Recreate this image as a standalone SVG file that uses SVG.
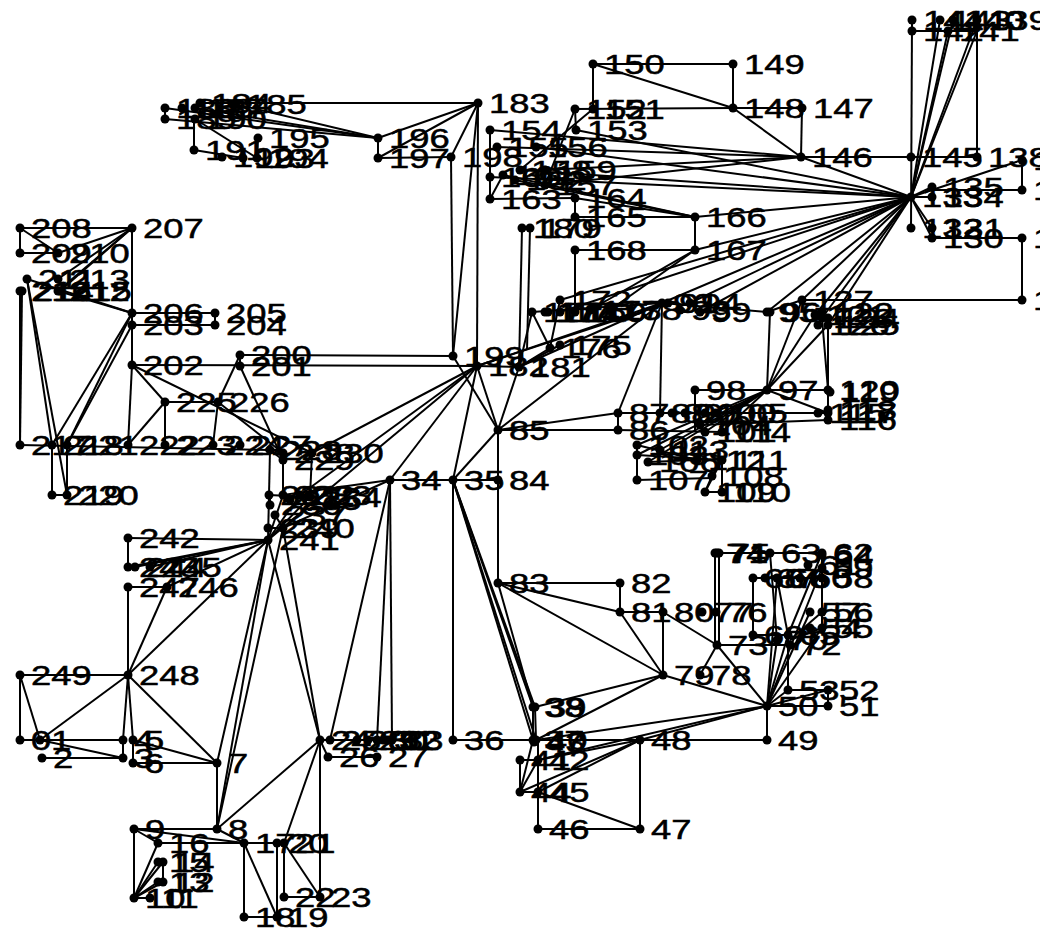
<svg xmlns="http://www.w3.org/2000/svg" width="1040" height="938" viewBox="0 0 1040 938">
<style>
rect.bg{fill:#fff}
#edges line{stroke:#000;stroke-width:2}
.nd circle{fill:#000}
.nd text{font-family:"Liberation Sans",Arial,sans-serif;font-size:28px;fill:#000;stroke:#000;stroke-width:0.5px}
</style>
<rect class="bg" width="1040" height="938"/>
<g id="edges">
<line x1="20" y1="675" x2="128" y2="675"/><line x1="20" y1="675" x2="20" y2="740"/><line x1="20" y1="675" x2="40" y2="740"/><line x1="128" y1="675" x2="40" y2="740"/>
<line x1="128" y1="675" x2="123" y2="740"/><line x1="128" y1="675" x2="133" y2="740"/><line x1="128" y1="675" x2="217" y2="763"/><line x1="128" y1="675" x2="128" y2="587"/>
<line x1="128" y1="675" x2="167" y2="587"/><line x1="128" y1="675" x2="268" y2="540"/>
<line x1="128" y1="538" x2="268" y2="540"/><line x1="128" y1="538" x2="128" y2="567"/><line x1="128" y1="567" x2="268" y2="540"/><line x1="135" y1="567" x2="268" y2="540"/><line x1="150" y1="567" x2="268" y2="540"/>
<line x1="128" y1="587" x2="167" y2="587"/><line x1="167" y1="587" x2="268" y2="540"/>
<line x1="20" y1="740" x2="123" y2="740"/><line x1="40" y1="740" x2="123" y2="758"/><line x1="42" y1="758" x2="123" y2="758"/><line x1="123" y1="740" x2="123" y2="758"/>
<line x1="133" y1="740" x2="217" y2="763"/><line x1="133" y1="763" x2="217" y2="763"/><line x1="133" y1="740" x2="133" y2="763"/>
<line x1="217" y1="763" x2="217" y2="829"/><line x1="268" y1="540" x2="217" y2="763"/><line x1="268" y1="540" x2="217" y2="829"/><line x1="283" y1="528" x2="217" y2="829"/>
<line x1="217" y1="829" x2="320" y2="740"/><line x1="217" y1="829" x2="134" y2="829"/><line x1="217" y1="829" x2="244" y2="843"/><line x1="134" y1="829" x2="244" y2="843"/>
<line x1="158" y1="843" x2="244" y2="843"/><line x1="134" y1="829" x2="134" y2="898"/><line x1="134" y1="829" x2="158" y2="843"/>
<line x1="134" y1="898" x2="158" y2="843"/><line x1="134" y1="898" x2="158" y2="862"/><line x1="134" y1="898" x2="163" y2="862"/><line x1="134" y1="898" x2="158" y2="882"/><line x1="134" y1="898" x2="163" y2="882"/><line x1="134" y1="898" x2="150" y2="898"/>
<line x1="163" y1="862" x2="163" y2="882"/>
<line x1="244" y1="843" x2="244" y2="917"/><line x1="244" y1="843" x2="277" y2="917"/><line x1="244" y1="917" x2="277" y2="917"/><line x1="244" y1="843" x2="284" y2="843"/>
<line x1="277" y1="843" x2="277" y2="917"/><line x1="284" y1="843" x2="284" y2="897"/><line x1="284" y1="897" x2="320" y2="897"/><line x1="284" y1="843" x2="320" y2="897"/>
<line x1="320" y1="740" x2="320" y2="897"/><line x1="284" y1="843" x2="320" y2="740"/><line x1="320" y1="740" x2="328" y2="757"/><line x1="328" y1="757" x2="377" y2="757"/>
<line x1="320" y1="740" x2="392" y2="740"/><line x1="268" y1="540" x2="320" y2="740"/><line x1="283" y1="528" x2="320" y2="740"/>
<line x1="330" y1="740" x2="390" y2="480"/><line x1="377" y1="740" x2="390" y2="480"/><line x1="392" y1="740" x2="390" y2="480"/>
<line x1="453" y1="480" x2="453" y2="740"/><line x1="453" y1="740" x2="533" y2="740"/><line x1="453" y1="480" x2="533" y2="740"/><line x1="453" y1="480" x2="533" y2="707"/><line x1="453" y1="480" x2="535" y2="707"/><line x1="453" y1="480" x2="536" y2="740"/>
<line x1="390" y1="480" x2="453" y2="480"/><line x1="453" y1="480" x2="498" y2="480"/>
<line x1="132" y1="228" x2="20" y2="228"/><line x1="20" y1="228" x2="20" y2="253"/><line x1="20" y1="253" x2="58" y2="253"/><line x1="20" y1="228" x2="58" y2="253"/>
<line x1="132" y1="228" x2="132" y2="313"/><line x1="132" y1="228" x2="58" y2="253"/><line x1="132" y1="228" x2="58" y2="279"/><line x1="132" y1="228" x2="58" y2="291"/><line x1="132" y1="228" x2="60" y2="291"/>
<line x1="58" y1="291" x2="132" y2="313"/><line x1="27" y1="279" x2="132" y2="313"/>
<line x1="20" y1="291" x2="20" y2="445"/><line x1="22" y1="291" x2="20" y2="445"/><line x1="27" y1="279" x2="52" y2="445"/><line x1="27" y1="279" x2="67" y2="495"/>
<line x1="52" y1="445" x2="52" y2="495"/><line x1="67" y1="445" x2="67" y2="495"/><line x1="52" y1="495" x2="67" y2="495"/>
<line x1="132" y1="313" x2="215" y2="313"/><line x1="132" y1="325" x2="215" y2="325"/><line x1="215" y1="313" x2="215" y2="325"/><line x1="132" y1="313" x2="132" y2="325"/><line x1="132" y1="325" x2="132" y2="365"/>
<line x1="132" y1="365" x2="477" y2="366"/><line x1="240" y1="355" x2="453" y2="356"/><line x1="240" y1="355" x2="240" y2="366"/>
<line x1="132" y1="313" x2="52" y2="445"/><line x1="132" y1="313" x2="67" y2="445"/><line x1="132" y1="325" x2="67" y2="445"/><line x1="132" y1="365" x2="128" y2="445"/>
<line x1="132" y1="365" x2="165" y2="402"/><line x1="132" y1="365" x2="312" y2="453"/><line x1="165" y1="402" x2="218" y2="402"/><line x1="165" y1="402" x2="165" y2="445"/><line x1="218" y1="402" x2="213" y2="445"/>
<line x1="128" y1="445" x2="165" y2="402"/><line x1="240" y1="355" x2="218" y2="402"/><line x1="240" y1="366" x2="283" y2="460"/><line x1="218" y1="402" x2="283" y2="453"/>
<line x1="20" y1="445" x2="270" y2="450"/><line x1="270" y1="450" x2="283" y2="460"/><line x1="283" y1="453" x2="283" y2="495"/><line x1="312" y1="453" x2="310" y2="497"/><line x1="270" y1="450" x2="269" y2="495"/>
<line x1="477" y1="366" x2="312" y2="453"/><line x1="477" y1="366" x2="300" y2="495"/><line x1="390" y1="480" x2="283" y2="495"/><line x1="477" y1="366" x2="268" y2="540"/><line x1="283" y1="528" x2="390" y2="480"/>
<line x1="269" y1="495" x2="268" y2="540"/><line x1="283" y1="495" x2="268" y2="540"/><line x1="300" y1="495" x2="268" y2="540"/><line x1="310" y1="497" x2="268" y2="540"/><line x1="275" y1="515" x2="283" y2="528"/><line x1="268" y1="528" x2="283" y2="528"/><line x1="269" y1="495" x2="310" y2="497"/><line x1="270" y1="505" x2="270" y2="495"/>
<line x1="477" y1="366" x2="478" y2="103"/><line x1="453" y1="356" x2="478" y2="103"/><line x1="451" y1="157" x2="453" y2="356"/><line x1="378" y1="158" x2="451" y2="157"/><line x1="378" y1="138" x2="378" y2="158"/>
<line x1="378" y1="138" x2="478" y2="103"/><line x1="378" y1="158" x2="478" y2="103"/><line x1="451" y1="157" x2="478" y2="103"/><line x1="200" y1="103" x2="478" y2="103"/>
<line x1="165" y1="108" x2="378" y2="138"/><line x1="165" y1="119" x2="378" y2="138"/><line x1="195" y1="108" x2="378" y2="138"/><line x1="235" y1="104" x2="378" y2="138"/>
<line x1="194" y1="119" x2="194" y2="150"/><line x1="194" y1="150" x2="243" y2="158"/><line x1="195" y1="119" x2="257" y2="158"/><line x1="258" y1="138" x2="257" y2="158"/><line x1="165" y1="108" x2="165" y2="119"/>
<line x1="477" y1="366" x2="519" y2="367"/><line x1="477" y1="366" x2="453" y2="480"/><line x1="477" y1="366" x2="498" y2="430"/><line x1="477" y1="366" x2="390" y2="480"/><line x1="453" y1="356" x2="498" y2="430"/>
<line x1="477" y1="366" x2="662" y2="303"/><line x1="477" y1="366" x2="668" y2="303"/><line x1="519" y1="367" x2="662" y2="303"/>
<line x1="498" y1="480" x2="498" y2="430"/><line x1="498" y1="583" x2="498" y2="480"/><line x1="498" y1="430" x2="618" y2="430"/><line x1="498" y1="430" x2="618" y2="413"/><line x1="498" y1="430" x2="519" y2="367"/><line x1="498" y1="430" x2="662" y2="303"/>
<line x1="453" y1="480" x2="498" y2="430"/><line x1="618" y1="413" x2="618" y2="430"/><line x1="618" y1="413" x2="662" y2="303"/><line x1="662" y1="303" x2="660" y2="413"/>
<line x1="522" y1="228" x2="519" y2="367"/><line x1="530" y1="228" x2="527" y2="350"/><line x1="532" y1="312" x2="550" y2="348"/><line x1="532" y1="312" x2="519" y2="367"/><line x1="550" y1="348" x2="519" y2="367"/><line x1="560" y1="345" x2="519" y2="367"/><line x1="560" y1="300" x2="550" y2="348"/>
<line x1="532" y1="312" x2="662" y2="303"/><line x1="575" y1="250" x2="575" y2="312"/><line x1="695" y1="250" x2="590" y2="310"/><line x1="695" y1="250" x2="610" y2="310"/>
<line x1="593" y1="64" x2="733" y2="64"/><line x1="593" y1="64" x2="593" y2="109"/><line x1="593" y1="64" x2="733" y2="108"/><line x1="733" y1="64" x2="733" y2="108"/><line x1="733" y1="108" x2="802" y2="108"/>
<line x1="802" y1="108" x2="801" y2="157"/><line x1="733" y1="108" x2="801" y2="157"/><line x1="801" y1="157" x2="911" y2="157"/><line x1="911" y1="157" x2="977" y2="157"/>
<line x1="912" y1="20" x2="911" y2="228"/><line x1="912" y1="31" x2="977" y2="31"/><line x1="977" y1="20" x2="977" y2="157"/>
<line x1="575" y1="109" x2="733" y2="108"/><line x1="575" y1="109" x2="576" y2="130"/><line x1="593" y1="109" x2="520" y2="170"/><line x1="575" y1="109" x2="545" y2="185"/>
<line x1="490" y1="130" x2="801" y2="157"/><line x1="576" y1="130" x2="911" y2="197"/><line x1="536" y1="147" x2="911" y2="197"/><line x1="497" y1="147" x2="801" y2="157"/><line x1="545" y1="185" x2="801" y2="157"/>
<line x1="520" y1="170" x2="911" y2="197"/><line x1="545" y1="170" x2="801" y2="157"/><line x1="490" y1="177" x2="911" y2="197"/><line x1="503" y1="175" x2="695" y2="217"/><line x1="515" y1="180" x2="695" y2="217"/>
<line x1="490" y1="199" x2="575" y2="198"/><line x1="490" y1="130" x2="490" y2="199"/><line x1="490" y1="199" x2="503" y2="175"/><line x1="575" y1="198" x2="575" y2="217"/><line x1="575" y1="198" x2="695" y2="217"/>
<line x1="575" y1="217" x2="695" y2="217"/><line x1="695" y1="217" x2="695" y2="250"/><line x1="695" y1="217" x2="911" y2="197"/><line x1="695" y1="250" x2="911" y2="197"/><line x1="575" y1="250" x2="695" y2="250"/>
<line x1="911" y1="197" x2="801" y2="157"/><line x1="911" y1="197" x2="560" y2="300"/><line x1="911" y1="197" x2="560" y2="312"/><line x1="911" y1="197" x2="662" y2="303"/><line x1="911" y1="197" x2="690" y2="303"/><line x1="911" y1="197" x2="700" y2="312"/>
<line x1="911" y1="197" x2="767" y2="312"/><line x1="911" y1="197" x2="802" y2="300"/><line x1="911" y1="197" x2="815" y2="315"/><line x1="911" y1="197" x2="822" y2="318"/><line x1="911" y1="197" x2="828" y2="325"/>
<line x1="911" y1="197" x2="932" y2="238"/><line x1="911" y1="197" x2="932" y2="228"/><line x1="911" y1="197" x2="932" y2="187"/><line x1="911" y1="197" x2="932" y2="197"/><line x1="911" y1="197" x2="1022" y2="160"/>
<line x1="911" y1="197" x2="940" y2="20"/><line x1="911" y1="197" x2="953" y2="20"/><line x1="911" y1="197" x2="948" y2="31"/><line x1="911" y1="197" x2="977" y2="20"/><line x1="911" y1="197" x2="977" y2="31"/>
<line x1="932" y1="190" x2="1022" y2="190"/><line x1="1022" y1="190" x2="1022" y2="160"/><line x1="932" y1="238" x2="1022" y2="238"/><line x1="1022" y1="238" x2="1022" y2="300"/><line x1="1022" y1="300" x2="802" y2="300"/>
<line x1="662" y1="303" x2="767" y2="312"/><line x1="770" y1="312" x2="767" y2="390"/><line x1="767" y1="312" x2="802" y2="300"/><line x1="695" y1="390" x2="767" y2="390"/><line x1="695" y1="390" x2="695" y2="432"/>
<line x1="767" y1="390" x2="828" y2="390"/><line x1="767" y1="390" x2="828" y2="413"/><line x1="767" y1="390" x2="802" y2="300"/><line x1="767" y1="390" x2="815" y2="315"/><line x1="767" y1="390" x2="828" y2="325"/>
<line x1="828" y1="390" x2="828" y2="420"/><line x1="828" y1="325" x2="828" y2="413"/><line x1="822" y1="318" x2="828" y2="390"/>
<line x1="767" y1="390" x2="705" y2="432"/><line x1="767" y1="390" x2="722" y2="432"/><line x1="767" y1="390" x2="637" y2="445"/><line x1="767" y1="390" x2="637" y2="455"/><line x1="767" y1="390" x2="648" y2="462"/><line x1="767" y1="390" x2="660" y2="450"/>
<line x1="618" y1="413" x2="828" y2="413"/><line x1="618" y1="430" x2="722" y2="432"/><line x1="700" y1="425" x2="828" y2="420"/>
<line x1="637" y1="445" x2="637" y2="480"/><line x1="637" y1="480" x2="712" y2="478"/><line x1="712" y1="476" x2="722" y2="460"/><line x1="722" y1="460" x2="705" y2="492"/><line x1="705" y1="492" x2="722" y2="492"/><line x1="722" y1="460" x2="722" y2="492"/><line x1="712" y1="476" x2="705" y2="492"/>
<line x1="637" y1="445" x2="697" y2="460"/><line x1="637" y1="455" x2="722" y2="460"/><line x1="648" y1="462" x2="697" y2="460"/>
<line x1="498" y1="583" x2="620" y2="583"/><line x1="498" y1="583" x2="620" y2="612"/><line x1="498" y1="583" x2="663" y2="675"/><line x1="620" y1="583" x2="620" y2="612"/><line x1="620" y1="612" x2="663" y2="612"/>
<line x1="620" y1="612" x2="663" y2="675"/><line x1="663" y1="612" x2="663" y2="675"/><line x1="498" y1="583" x2="533" y2="707"/>
<line x1="663" y1="675" x2="535" y2="707"/><line x1="663" y1="675" x2="536" y2="740"/><line x1="663" y1="675" x2="767" y2="706"/>
<line x1="663" y1="612" x2="717" y2="645"/><line x1="717" y1="645" x2="700" y2="675"/><line x1="715" y1="553" x2="715" y2="645"/><line x1="719" y1="553" x2="719" y2="645"/><line x1="717" y1="645" x2="790" y2="645"/><line x1="717" y1="645" x2="767" y2="706"/>
<line x1="715" y1="553" x2="822" y2="553"/><line x1="770" y1="553" x2="777" y2="640"/><line x1="753" y1="578" x2="822" y2="578"/><line x1="753" y1="578" x2="753" y2="635"/><line x1="753" y1="635" x2="788" y2="635"/>
<line x1="788" y1="635" x2="788" y2="690"/><line x1="822" y1="553" x2="822" y2="628"/><line x1="822" y1="553" x2="788" y2="635"/><line x1="777" y1="578" x2="788" y2="635"/><line x1="822" y1="612" x2="790" y2="640"/><line x1="822" y1="628" x2="790" y2="640"/>
<line x1="788" y1="690" x2="828" y2="690"/><line x1="828" y1="690" x2="828" y2="706"/><line x1="767" y1="706" x2="828" y2="706"/><line x1="767" y1="706" x2="828" y2="690"/><line x1="767" y1="706" x2="788" y2="690"/>
<line x1="767" y1="706" x2="767" y2="740"/><line x1="767" y1="740" x2="640" y2="740"/><line x1="640" y1="740" x2="640" y2="829"/><line x1="640" y1="829" x2="538" y2="829"/><line x1="538" y1="740" x2="538" y2="829"/>
<line x1="538" y1="792" x2="640" y2="829"/><line x1="533" y1="740" x2="640" y2="740"/><line x1="767" y1="706" x2="536" y2="740"/><line x1="767" y1="706" x2="640" y2="740"/><line x1="767" y1="706" x2="538" y2="760"/>
<line x1="640" y1="740" x2="538" y2="760"/><line x1="640" y1="740" x2="520" y2="792"/><line x1="640" y1="740" x2="538" y2="792"/><line x1="520" y1="792" x2="538" y2="792"/><line x1="520" y1="760" x2="520" y2="792"/><line x1="520" y1="760" x2="538" y2="760"/>
<line x1="520" y1="792" x2="538" y2="760"/><line x1="533" y1="740" x2="520" y2="792"/><line x1="533" y1="707" x2="533" y2="740"/><line x1="535" y1="707" x2="536" y2="740"/>
<line x1="767" y1="706" x2="788" y2="635"/><line x1="767" y1="706" x2="777" y2="640"/><line x1="767" y1="706" x2="777" y2="578"/><line x1="767" y1="706" x2="822" y2="568"/><line x1="767" y1="706" x2="822" y2="628"/><line x1="767" y1="706" x2="810" y2="612"/>
</g>
<g class="nd">
<g id="n0"><circle cx="20" cy="740" r="4.5"/><text transform="translate(31 750) scale(1.3 1)">0</text></g>
<g id="n1"><circle cx="40" cy="740" r="4.5"/><text transform="translate(51 750) scale(1.3 1)">1</text></g>
<g id="n2"><circle cx="42" cy="758" r="4.5"/><text transform="translate(53 768) scale(1.3 1)">2</text></g>
<g id="n3"><circle cx="123" cy="758" r="4.5"/><text transform="translate(134 768) scale(1.3 1)">3</text></g>
<g id="n4"><circle cx="123" cy="740" r="4.5"/><text transform="translate(134 750) scale(1.3 1)">4</text></g>
<g id="n5"><circle cx="133" cy="740" r="4.5"/><text transform="translate(144 750) scale(1.3 1)">5</text></g>
<g id="n6"><circle cx="133" cy="763" r="4.5"/><text transform="translate(144 773) scale(1.3 1)">6</text></g>
<g id="n7"><circle cx="217" cy="763" r="4.5"/><text transform="translate(228 773) scale(1.3 1)">7</text></g>
<g id="n8"><circle cx="217" cy="829" r="4.5"/><text transform="translate(228 839) scale(1.3 1)">8</text></g>
<g id="n9"><circle cx="134" cy="829" r="4.5"/><text transform="translate(145 839) scale(1.3 1)">9</text></g>
<g id="n10"><circle cx="134" cy="898" r="4.5"/><text transform="translate(145 908) scale(1.3 1)">10</text></g>
<g id="n11"><circle cx="150" cy="898" r="4.5"/><text transform="translate(161 908) scale(1.3 1)">11</text></g>
<g id="n12"><circle cx="163" cy="882" r="4.5"/><text transform="translate(174 892) scale(1.3 1)">12</text></g>
<g id="n13"><circle cx="158" cy="882" r="4.5"/><text transform="translate(169 892) scale(1.3 1)">13</text></g>
<g id="n14"><circle cx="163" cy="862" r="4.5"/><text transform="translate(174 872) scale(1.3 1)">14</text></g>
<g id="n15"><circle cx="158" cy="862" r="4.5"/><text transform="translate(169 872) scale(1.3 1)">15</text></g>
<g id="n16"><circle cx="158" cy="843" r="4.5"/><text transform="translate(169 853) scale(1.3 1)">16</text></g>
<g id="n17"><circle cx="244" cy="843" r="4.5"/><text transform="translate(255 853) scale(1.3 1)">17</text></g>
<g id="n18"><circle cx="244" cy="917" r="4.5"/><text transform="translate(255 927) scale(1.3 1)">18</text></g>
<g id="n19"><circle cx="277" cy="917" r="4.5"/><text transform="translate(288 927) scale(1.3 1)">19</text></g>
<g id="n20"><circle cx="277" cy="843" r="4.5"/><text transform="translate(288 853) scale(1.3 1)">20</text></g>
<g id="n21"><circle cx="284" cy="843" r="4.5"/><text transform="translate(295 853) scale(1.3 1)">21</text></g>
<g id="n22"><circle cx="284" cy="897" r="4.5"/><text transform="translate(295 907) scale(1.3 1)">22</text></g>
<g id="n23"><circle cx="320" cy="897" r="4.5"/><text transform="translate(331 907) scale(1.3 1)">23</text></g>
<g id="n24"><circle cx="320" cy="740" r="4.5"/><text transform="translate(331 750) scale(1.3 1)">24</text></g>
<g id="n25"><circle cx="330" cy="740" r="4.5"/><text transform="translate(341 750) scale(1.3 1)">25</text></g>
<g id="n26"><circle cx="328" cy="757" r="4.5"/><text transform="translate(339 767) scale(1.3 1)">26</text></g>
<g id="n27"><circle cx="377" cy="757" r="4.5"/><text transform="translate(388 767) scale(1.3 1)">27</text></g>
<g id="n28"><circle cx="357" cy="740" r="4.5"/><text transform="translate(368 750) scale(1.3 1)">28</text></g>
<g id="n29"><circle cx="368" cy="740" r="4.5"/><text transform="translate(379 750) scale(1.3 1)">29</text></g>
<g id="n30"><circle cx="377" cy="740" r="4.5"/><text transform="translate(388 750) scale(1.3 1)">30</text></g>
<g id="n31"><circle cx="383" cy="740" r="4.5"/><text transform="translate(394 750) scale(1.3 1)">31</text></g>
<g id="n32"><circle cx="388" cy="740" r="4.5"/><text transform="translate(399 750) scale(1.3 1)">32</text></g>
<g id="n33"><circle cx="392" cy="740" r="4.5"/><text transform="translate(403 750) scale(1.3 1)">33</text></g>
<g id="n34"><circle cx="390" cy="480" r="4.5"/><text transform="translate(401 490) scale(1.3 1)">34</text></g>
<g id="n35"><circle cx="453" cy="480" r="4.5"/><text transform="translate(464 490) scale(1.3 1)">35</text></g>
<g id="n36"><circle cx="453" cy="740" r="4.5"/><text transform="translate(464 750) scale(1.3 1)">36</text></g>
<g id="n37"><circle cx="533" cy="740" r="4.5"/><text transform="translate(544 750) scale(1.3 1)">37</text></g>
<g id="n38"><circle cx="533" cy="707" r="4.5"/><text transform="translate(544 717) scale(1.3 1)">38</text></g>
<g id="n39"><circle cx="535" cy="707" r="4.5"/><text transform="translate(546 717) scale(1.3 1)">39</text></g>
<g id="n40"><circle cx="536" cy="740" r="4.5"/><text transform="translate(547 750) scale(1.3 1)">40</text></g>
<g id="n41"><circle cx="520" cy="760" r="4.5"/><text transform="translate(531 770) scale(1.3 1)">41</text></g>
<g id="n42"><circle cx="538" cy="760" r="4.5"/><text transform="translate(549 770) scale(1.3 1)">42</text></g>
<g id="n43"><circle cx="534" cy="742" r="4.5"/><text transform="translate(545 752) scale(1.3 1)">43</text></g>
<g id="n44"><circle cx="520" cy="792" r="4.5"/><text transform="translate(531 802) scale(1.3 1)">44</text></g>
<g id="n45"><circle cx="538" cy="792" r="4.5"/><text transform="translate(549 802) scale(1.3 1)">45</text></g>
<g id="n46"><circle cx="538" cy="829" r="4.5"/><text transform="translate(549 839) scale(1.3 1)">46</text></g>
<g id="n47"><circle cx="640" cy="829" r="4.5"/><text transform="translate(651 839) scale(1.3 1)">47</text></g>
<g id="n48"><circle cx="640" cy="740" r="4.5"/><text transform="translate(651 750) scale(1.3 1)">48</text></g>
<g id="n49"><circle cx="767" cy="740" r="4.5"/><text transform="translate(778 750) scale(1.3 1)">49</text></g>
<g id="n50"><circle cx="767" cy="706" r="4.5"/><text transform="translate(778 716) scale(1.3 1)">50</text></g>
<g id="n51"><circle cx="828" cy="706" r="4.5"/><text transform="translate(839 716) scale(1.3 1)">51</text></g>
<g id="n52"><circle cx="828" cy="690" r="4.5"/><text transform="translate(839 700) scale(1.3 1)">52</text></g>
<g id="n53"><circle cx="788" cy="690" r="4.5"/><text transform="translate(799 700) scale(1.3 1)">53</text></g>
<g id="n54"><circle cx="810" cy="628" r="4.5"/><text transform="translate(821 638) scale(1.3 1)">54</text></g>
<g id="n55"><circle cx="822" cy="628" r="4.5"/><text transform="translate(833 638) scale(1.3 1)">55</text></g>
<g id="n56"><circle cx="822" cy="612" r="4.5"/><text transform="translate(833 622) scale(1.3 1)">56</text></g>
<g id="n57"><circle cx="810" cy="612" r="4.5"/><text transform="translate(821 622) scale(1.3 1)">57</text></g>
<g id="n58"><circle cx="822" cy="578" r="4.5"/><text transform="translate(833 588) scale(1.3 1)">58</text></g>
<g id="n59"><circle cx="822" cy="568" r="4.5"/><text transform="translate(833 578) scale(1.3 1)">59</text></g>
<g id="n60"><circle cx="800" cy="578" r="4.5"/><text transform="translate(811 588) scale(1.3 1)">60</text></g>
<g id="n61"><circle cx="808" cy="565" r="4.5"/><text transform="translate(819 575) scale(1.3 1)">61</text></g>
<g id="n62"><circle cx="822" cy="553" r="4.5"/><text transform="translate(833 563) scale(1.3 1)">62</text></g>
<g id="n63"><circle cx="770" cy="553" r="4.5"/><text transform="translate(781 563) scale(1.3 1)">63</text></g>
<g id="n64"><circle cx="822" cy="555" r="4.5"/><text transform="translate(833 565) scale(1.3 1)">64</text></g>
<g id="n65"><circle cx="788" cy="635" r="4.5"/><text transform="translate(799 645) scale(1.3 1)">65</text></g>
<g id="n66"><circle cx="777" cy="578" r="4.5"/><text transform="translate(788 588) scale(1.3 1)">66</text></g>
<g id="n67"><circle cx="765" cy="578" r="4.5"/><text transform="translate(776 588) scale(1.3 1)">67</text></g>
<g id="n68"><circle cx="753" cy="578" r="4.5"/><text transform="translate(764 588) scale(1.3 1)">68</text></g>
<g id="n69"><circle cx="753" cy="635" r="4.5"/><text transform="translate(764 645) scale(1.3 1)">69</text></g>
<g id="n70"><circle cx="777" cy="640" r="4.5"/><text transform="translate(788 650) scale(1.3 1)">70</text></g>
<g id="n71"><circle cx="717" cy="553" r="4.5"/><text transform="translate(728 563) scale(1.3 1)">71</text></g>
<g id="n72"><circle cx="790" cy="645" r="4.5"/><text transform="translate(801 655) scale(1.3 1)">72</text></g>
<g id="n73"><circle cx="717" cy="645" r="4.5"/><text transform="translate(728 655) scale(1.3 1)">73</text></g>
<g id="n74"><circle cx="715" cy="553" r="4.5"/><text transform="translate(726 563) scale(1.3 1)">74</text></g>
<g id="n75"><circle cx="719" cy="553" r="4.5"/><text transform="translate(730 563) scale(1.3 1)">75</text></g>
<g id="n76"><circle cx="716" cy="612" r="4.5"/><text transform="translate(727 622) scale(1.3 1)">76</text></g>
<g id="n77"><circle cx="702" cy="612" r="4.5"/><text transform="translate(713 622) scale(1.3 1)">77</text></g>
<g id="n78"><circle cx="700" cy="675" r="4.5"/><text transform="translate(711 685) scale(1.3 1)">78</text></g>
<g id="n79"><circle cx="663" cy="675" r="4.5"/><text transform="translate(674 685) scale(1.3 1)">79</text></g>
<g id="n80"><circle cx="663" cy="612" r="4.5"/><text transform="translate(674 622) scale(1.3 1)">80</text></g>
<g id="n81"><circle cx="620" cy="612" r="4.5"/><text transform="translate(631 622) scale(1.3 1)">81</text></g>
<g id="n82"><circle cx="620" cy="583" r="4.5"/><text transform="translate(631 593) scale(1.3 1)">82</text></g>
<g id="n83"><circle cx="498" cy="583" r="4.5"/><text transform="translate(509 593) scale(1.3 1)">83</text></g>
<g id="n84"><circle cx="498" cy="480" r="4.5"/><text transform="translate(509 490) scale(1.3 1)">84</text></g>
<g id="n85"><circle cx="498" cy="430" r="4.5"/><text transform="translate(509 440) scale(1.3 1)">85</text></g>
<g id="n86"><circle cx="618" cy="430" r="4.5"/><text transform="translate(629 440) scale(1.3 1)">86</text></g>
<g id="n87"><circle cx="618" cy="413" r="4.5"/><text transform="translate(629 423) scale(1.3 1)">87</text></g>
<g id="n88"><circle cx="660" cy="413" r="4.5"/><text transform="translate(671 423) scale(1.3 1)">88</text></g>
<g id="n89"><circle cx="672" cy="413" r="4.5"/><text transform="translate(683 423) scale(1.3 1)">89</text></g>
<g id="n90"><circle cx="685" cy="413" r="4.5"/><text transform="translate(696 423) scale(1.3 1)">90</text></g>
<g id="n91"><circle cx="668" cy="303" r="4.5"/><text transform="translate(679 313) scale(1.3 1)">91</text></g>
<g id="n92"><circle cx="662" cy="303" r="4.5"/><text transform="translate(673 313) scale(1.3 1)">92</text></g>
<g id="n93"><circle cx="680" cy="310" r="4.5"/><text transform="translate(691 320) scale(1.3 1)">93</text></g>
<g id="n94"><circle cx="690" cy="303" r="4.5"/><text transform="translate(701 313) scale(1.3 1)">94</text></g>
<g id="n95"><circle cx="767" cy="312" r="4.5"/><text transform="translate(778 322) scale(1.3 1)">95</text></g>
<g id="n96"><circle cx="770" cy="312" r="4.5"/><text transform="translate(781 322) scale(1.3 1)">96</text></g>
<g id="n97"><circle cx="767" cy="390" r="4.5"/><text transform="translate(778 400) scale(1.3 1)">97</text></g>
<g id="n98"><circle cx="695" cy="390" r="4.5"/><text transform="translate(706 400) scale(1.3 1)">98</text></g>
<g id="n99"><circle cx="700" cy="312" r="4.5"/><text transform="translate(711 322) scale(1.3 1)">99</text></g>
<g id="n100"><circle cx="705" cy="413" r="4.5"/><text transform="translate(716 423) scale(1.3 1)">100</text></g>
<g id="n101"><circle cx="705" cy="432" r="4.5"/><text transform="translate(716 442) scale(1.3 1)">101</text></g>
<g id="n102"><circle cx="637" cy="445" r="4.5"/><text transform="translate(648 455) scale(1.3 1)">102</text></g>
<g id="n103"><circle cx="637" cy="455" r="4.5"/><text transform="translate(648 465) scale(1.3 1)">103</text></g>
<g id="n104"><circle cx="700" cy="425" r="4.5"/><text transform="translate(711 435) scale(1.3 1)">104</text></g>
<g id="n105"><circle cx="716" cy="413" r="4.5"/><text transform="translate(727 423) scale(1.3 1)">105</text></g>
<g id="n106"><circle cx="648" cy="462" r="4.5"/><text transform="translate(659 472) scale(1.3 1)">106</text></g>
<g id="n107"><circle cx="637" cy="480" r="4.5"/><text transform="translate(648 490) scale(1.3 1)">107</text></g>
<g id="n108"><circle cx="712" cy="476" r="4.5"/><text transform="translate(723 486) scale(1.3 1)">108</text></g>
<g id="n109"><circle cx="705" cy="492" r="4.5"/><text transform="translate(716 502) scale(1.3 1)">109</text></g>
<g id="n110"><circle cx="722" cy="492" r="4.5"/><text transform="translate(733 502) scale(1.3 1)">110</text></g>
<g id="n111"><circle cx="722" cy="460" r="4.5"/><text transform="translate(733 470) scale(1.3 1)">111</text></g>
<g id="n112"><circle cx="697" cy="460" r="4.5"/><text transform="translate(708 470) scale(1.3 1)">112</text></g>
<g id="n113"><circle cx="660" cy="450" r="4.5"/><text transform="translate(671 460) scale(1.3 1)">113</text></g>
<g id="n114"><circle cx="722" cy="432" r="4.5"/><text transform="translate(733 442) scale(1.3 1)">114</text></g>
<g id="n115"><circle cx="818" cy="413" r="4.5"/><text transform="translate(829 423) scale(1.3 1)">115</text></g>
<g id="n116"><circle cx="828" cy="420" r="4.5"/><text transform="translate(839 430) scale(1.3 1)">116</text></g>
<g id="n117"><circle cx="828" cy="413" r="4.5"/><text transform="translate(839 423) scale(1.3 1)">117</text></g>
<g id="n118"><circle cx="828" cy="410" r="4.5"/><text transform="translate(839 420) scale(1.3 1)">118</text></g>
<g id="n119"><circle cx="830" cy="392" r="4.5"/><text transform="translate(841 402) scale(1.3 1)">119</text></g>
<g id="n120"><circle cx="828" cy="390" r="4.5"/><text transform="translate(839 400) scale(1.3 1)">120</text></g>
<g id="n121"><circle cx="815" cy="315" r="4.5"/><text transform="translate(826 325) scale(1.3 1)">121</text></g>
<g id="n122"><circle cx="822" cy="312" r="4.5"/><text transform="translate(833 322) scale(1.3 1)">122</text></g>
<g id="n123"><circle cx="822" cy="318" r="4.5"/><text transform="translate(833 328) scale(1.3 1)">123</text></g>
<g id="n124"><circle cx="828" cy="318" r="4.5"/><text transform="translate(839 328) scale(1.3 1)">124</text></g>
<g id="n125"><circle cx="828" cy="325" r="4.5"/><text transform="translate(839 335) scale(1.3 1)">125</text></g>
<g id="n126"><circle cx="818" cy="325" r="4.5"/><text transform="translate(829 335) scale(1.3 1)">126</text></g>
<g id="n127"><circle cx="802" cy="300" r="4.5"/><text transform="translate(813 310) scale(1.3 1)">127</text></g>
<g id="n128"><circle cx="1022" cy="300" r="4.5"/><text transform="translate(1033 310) scale(1.3 1)">128</text></g>
<g id="n129"><circle cx="1022" cy="238" r="4.5"/><text transform="translate(1033 248) scale(1.3 1)">129</text></g>
<g id="n130"><circle cx="932" cy="238" r="4.5"/><text transform="translate(943 248) scale(1.3 1)">130</text></g>
<g id="n131"><circle cx="932" cy="228" r="4.5"/><text transform="translate(943 238) scale(1.3 1)">131</text></g>
<g id="n132"><circle cx="911" cy="228" r="4.5"/><text transform="translate(922 238) scale(1.3 1)">132</text></g>
<g id="n133"><circle cx="911" cy="197" r="4.5"/><text transform="translate(922 207) scale(1.3 1)">133</text></g>
<g id="n134"><circle cx="932" cy="197" r="4.5"/><text transform="translate(943 207) scale(1.3 1)">134</text></g>
<g id="n135"><circle cx="932" cy="187" r="4.5"/><text transform="translate(943 197) scale(1.3 1)">135</text></g>
<g id="n136"><circle cx="1022" cy="190" r="4.5"/><text transform="translate(1033 200) scale(1.3 1)">136</text></g>
<g id="n137"><circle cx="1022" cy="160" r="4.5"/><text transform="translate(1033 170) scale(1.3 1)">137</text></g>
<g id="n138"><circle cx="977" cy="157" r="4.5"/><text transform="translate(988 167) scale(1.3 1)">138</text></g>
<g id="n139"><circle cx="977" cy="20" r="4.5"/><text transform="translate(988 30) scale(1.3 1)">139</text></g>
<g id="n140"><circle cx="953" cy="20" r="4.5"/><text transform="translate(964 30) scale(1.3 1)">140</text></g>
<g id="n141"><circle cx="948" cy="31" r="4.5"/><text transform="translate(959 41) scale(1.3 1)">141</text></g>
<g id="n142"><circle cx="912" cy="31" r="4.5"/><text transform="translate(923 41) scale(1.3 1)">142</text></g>
<g id="n143"><circle cx="940" cy="20" r="4.5"/><text transform="translate(951 30) scale(1.3 1)">143</text></g>
<g id="n144"><circle cx="912" cy="20" r="4.5"/><text transform="translate(923 30) scale(1.3 1)">144</text></g>
<g id="n145"><circle cx="911" cy="157" r="4.5"/><text transform="translate(922 167) scale(1.3 1)">145</text></g>
<g id="n146"><circle cx="801" cy="157" r="4.5"/><text transform="translate(812 167) scale(1.3 1)">146</text></g>
<g id="n147"><circle cx="802" cy="108" r="4.5"/><text transform="translate(813 118) scale(1.3 1)">147</text></g>
<g id="n148"><circle cx="733" cy="108" r="4.5"/><text transform="translate(744 118) scale(1.3 1)">148</text></g>
<g id="n149"><circle cx="733" cy="64" r="4.5"/><text transform="translate(744 74) scale(1.3 1)">149</text></g>
<g id="n150"><circle cx="593" cy="64" r="4.5"/><text transform="translate(604 74) scale(1.3 1)">150</text></g>
<g id="n151"><circle cx="593" cy="109" r="4.5"/><text transform="translate(604 119) scale(1.3 1)">151</text></g>
<g id="n152"><circle cx="575" cy="109" r="4.5"/><text transform="translate(586 119) scale(1.3 1)">152</text></g>
<g id="n153"><circle cx="576" cy="130" r="4.5"/><text transform="translate(587 140) scale(1.3 1)">153</text></g>
<g id="n154"><circle cx="490" cy="130" r="4.5"/><text transform="translate(501 140) scale(1.3 1)">154</text></g>
<g id="n155"><circle cx="497" cy="147" r="4.5"/><text transform="translate(508 157) scale(1.3 1)">155</text></g>
<g id="n156"><circle cx="536" cy="147" r="4.5"/><text transform="translate(547 157) scale(1.3 1)">156</text></g>
<g id="n157"><circle cx="545" cy="185" r="4.5"/><text transform="translate(556 195) scale(1.3 1)">157</text></g>
<g id="n158"><circle cx="520" cy="170" r="4.5"/><text transform="translate(531 180) scale(1.3 1)">158</text></g>
<g id="n159"><circle cx="545" cy="170" r="4.5"/><text transform="translate(556 180) scale(1.3 1)">159</text></g>
<g id="n160"><circle cx="490" cy="177" r="4.5"/><text transform="translate(501 187) scale(1.3 1)">160</text></g>
<g id="n161"><circle cx="503" cy="175" r="4.5"/><text transform="translate(514 185) scale(1.3 1)">161</text></g>
<g id="n162"><circle cx="515" cy="180" r="4.5"/><text transform="translate(526 190) scale(1.3 1)">162</text></g>
<g id="n163"><circle cx="490" cy="199" r="4.5"/><text transform="translate(501 209) scale(1.3 1)">163</text></g>
<g id="n164"><circle cx="575" cy="198" r="4.5"/><text transform="translate(586 208) scale(1.3 1)">164</text></g>
<g id="n165"><circle cx="575" cy="217" r="4.5"/><text transform="translate(586 227) scale(1.3 1)">165</text></g>
<g id="n166"><circle cx="695" cy="217" r="4.5"/><text transform="translate(706 227) scale(1.3 1)">166</text></g>
<g id="n167"><circle cx="695" cy="250" r="4.5"/><text transform="translate(706 260) scale(1.3 1)">167</text></g>
<g id="n168"><circle cx="575" cy="250" r="4.5"/><text transform="translate(586 260) scale(1.3 1)">168</text></g>
<g id="n169"><circle cx="575" cy="312" r="4.5"/><text transform="translate(586 322) scale(1.3 1)">169</text></g>
<g id="n170"><circle cx="560" cy="312" r="4.5"/><text transform="translate(571 322) scale(1.3 1)">170</text></g>
<g id="n171"><circle cx="532" cy="312" r="4.5"/><text transform="translate(543 322) scale(1.3 1)">171</text></g>
<g id="n172"><circle cx="560" cy="300" r="4.5"/><text transform="translate(571 310) scale(1.3 1)">172</text></g>
<g id="n173"><circle cx="590" cy="310" r="4.5"/><text transform="translate(601 320) scale(1.3 1)">173</text></g>
<g id="n174"><circle cx="548" cy="312" r="4.5"/><text transform="translate(559 322) scale(1.3 1)">174</text></g>
<g id="n175"><circle cx="560" cy="345" r="4.5"/><text transform="translate(571 355) scale(1.3 1)">175</text></g>
<g id="n176"><circle cx="550" cy="348" r="4.5"/><text transform="translate(561 358) scale(1.3 1)">176</text></g>
<g id="n177"><circle cx="545" cy="312" r="4.5"/><text transform="translate(556 322) scale(1.3 1)">177</text></g>
<g id="n178"><circle cx="610" cy="310" r="4.5"/><text transform="translate(621 320) scale(1.3 1)">178</text></g>
<g id="n179"><circle cx="530" cy="228" r="4.5"/><text transform="translate(541 238) scale(1.3 1)">179</text></g>
<g id="n180"><circle cx="522" cy="228" r="4.5"/><text transform="translate(533 238) scale(1.3 1)">180</text></g>
<g id="n181"><circle cx="519" cy="367" r="4.5"/><text transform="translate(530 377) scale(1.3 1)">181</text></g>
<g id="n182"><circle cx="477" cy="366" r="4.5"/><text transform="translate(488 376) scale(1.3 1)">182</text></g>
<g id="n183"><circle cx="478" cy="103" r="4.5"/><text transform="translate(489 113) scale(1.3 1)">183</text></g>
<g id="n184"><circle cx="200" cy="103" r="4.5"/><text transform="translate(211 113) scale(1.3 1)">184</text></g>
<g id="n185"><circle cx="235" cy="104" r="4.5"/><text transform="translate(246 114) scale(1.3 1)">185</text></g>
<g id="n186"><circle cx="165" cy="108" r="4.5"/><text transform="translate(176 118) scale(1.3 1)">186</text></g>
<g id="n187"><circle cx="195" cy="108" r="4.5"/><text transform="translate(206 118) scale(1.3 1)">187</text></g>
<g id="n188"><circle cx="182" cy="108" r="4.5"/><text transform="translate(193 118) scale(1.3 1)">188</text></g>
<g id="n189"><circle cx="165" cy="119" r="4.5"/><text transform="translate(176 129) scale(1.3 1)">189</text></g>
<g id="n190"><circle cx="195" cy="119" r="4.5"/><text transform="translate(206 129) scale(1.3 1)">190</text></g>
<g id="n191"><circle cx="194" cy="150" r="4.5"/><text transform="translate(205 160) scale(1.3 1)">191</text></g>
<g id="n192"><circle cx="222" cy="157" r="4.5"/><text transform="translate(233 167) scale(1.3 1)">192</text></g>
<g id="n193"><circle cx="243" cy="158" r="4.5"/><text transform="translate(254 168) scale(1.3 1)">193</text></g>
<g id="n194"><circle cx="257" cy="158" r="4.5"/><text transform="translate(268 168) scale(1.3 1)">194</text></g>
<g id="n195"><circle cx="258" cy="138" r="4.5"/><text transform="translate(269 148) scale(1.3 1)">195</text></g>
<g id="n196"><circle cx="378" cy="138" r="4.5"/><text transform="translate(389 148) scale(1.3 1)">196</text></g>
<g id="n197"><circle cx="378" cy="158" r="4.5"/><text transform="translate(389 168) scale(1.3 1)">197</text></g>
<g id="n198"><circle cx="451" cy="157" r="4.5"/><text transform="translate(462 167) scale(1.3 1)">198</text></g>
<g id="n199"><circle cx="453" cy="356" r="4.5"/><text transform="translate(464 366) scale(1.3 1)">199</text></g>
<g id="n200"><circle cx="240" cy="355" r="4.5"/><text transform="translate(251 365) scale(1.3 1)">200</text></g>
<g id="n201"><circle cx="240" cy="366" r="4.5"/><text transform="translate(251 376) scale(1.3 1)">201</text></g>
<g id="n202"><circle cx="132" cy="365" r="4.5"/><text transform="translate(143 375) scale(1.3 1)">202</text></g>
<g id="n203"><circle cx="132" cy="325" r="4.5"/><text transform="translate(143 335) scale(1.3 1)">203</text></g>
<g id="n204"><circle cx="215" cy="325" r="4.5"/><text transform="translate(226 335) scale(1.3 1)">204</text></g>
<g id="n205"><circle cx="215" cy="313" r="4.5"/><text transform="translate(226 323) scale(1.3 1)">205</text></g>
<g id="n206"><circle cx="132" cy="313" r="4.5"/><text transform="translate(143 323) scale(1.3 1)">206</text></g>
<g id="n207"><circle cx="132" cy="228" r="4.5"/><text transform="translate(143 238) scale(1.3 1)">207</text></g>
<g id="n208"><circle cx="20" cy="228" r="4.5"/><text transform="translate(31 238) scale(1.3 1)">208</text></g>
<g id="n209"><circle cx="20" cy="253" r="4.5"/><text transform="translate(31 263) scale(1.3 1)">209</text></g>
<g id="n210"><circle cx="58" cy="253" r="4.5"/><text transform="translate(69 263) scale(1.3 1)">210</text></g>
<g id="n211"><circle cx="27" cy="279" r="4.5"/><text transform="translate(38 289) scale(1.3 1)">211</text></g>
<g id="n212"><circle cx="58" cy="291" r="4.5"/><text transform="translate(69 301) scale(1.3 1)">212</text></g>
<g id="n213"><circle cx="58" cy="279" r="4.5"/><text transform="translate(69 289) scale(1.3 1)">213</text></g>
<g id="n214"><circle cx="22" cy="291" r="4.5"/><text transform="translate(33 301) scale(1.3 1)">214</text></g>
<g id="n215"><circle cx="60" cy="291" r="4.5"/><text transform="translate(71 301) scale(1.3 1)">215</text></g>
<g id="n216"><circle cx="20" cy="291" r="4.5"/><text transform="translate(31 301) scale(1.3 1)">216</text></g>
<g id="n217"><circle cx="20" cy="445" r="4.5"/><text transform="translate(31 455) scale(1.3 1)">217</text></g>
<g id="n218"><circle cx="52" cy="445" r="4.5"/><text transform="translate(63 455) scale(1.3 1)">218</text></g>
<g id="n219"><circle cx="52" cy="495" r="4.5"/><text transform="translate(63 505) scale(1.3 1)">219</text></g>
<g id="n220"><circle cx="67" cy="495" r="4.5"/><text transform="translate(78 505) scale(1.3 1)">220</text></g>
<g id="n221"><circle cx="67" cy="445" r="4.5"/><text transform="translate(78 455) scale(1.3 1)">221</text></g>
<g id="n222"><circle cx="128" cy="445" r="4.5"/><text transform="translate(139 455) scale(1.3 1)">222</text></g>
<g id="n223"><circle cx="165" cy="445" r="4.5"/><text transform="translate(176 455) scale(1.3 1)">223</text></g>
<g id="n224"><circle cx="213" cy="445" r="4.5"/><text transform="translate(224 455) scale(1.3 1)">224</text></g>
<g id="n225"><circle cx="165" cy="402" r="4.5"/><text transform="translate(176 412) scale(1.3 1)">225</text></g>
<g id="n226"><circle cx="218" cy="402" r="4.5"/><text transform="translate(229 412) scale(1.3 1)">226</text></g>
<g id="n227"><circle cx="240" cy="445" r="4.5"/><text transform="translate(251 455) scale(1.3 1)">227</text></g>
<g id="n228"><circle cx="270" cy="450" r="4.5"/><text transform="translate(281 460) scale(1.3 1)">228</text></g>
<g id="n229"><circle cx="283" cy="460" r="4.5"/><text transform="translate(294 470) scale(1.3 1)">229</text></g>
<g id="n230"><circle cx="312" cy="453" r="4.5"/><text transform="translate(323 463) scale(1.3 1)">230</text></g>
<g id="n231"><circle cx="269" cy="495" r="4.5"/><text transform="translate(280 505) scale(1.3 1)">231</text></g>
<g id="n232"><circle cx="283" cy="495" r="4.5"/><text transform="translate(294 505) scale(1.3 1)">232</text></g>
<g id="n233"><circle cx="300" cy="495" r="4.5"/><text transform="translate(311 505) scale(1.3 1)">233</text></g>
<g id="n234"><circle cx="310" cy="497" r="4.5"/><text transform="translate(321 507) scale(1.3 1)">234</text></g>
<g id="n235"><circle cx="290" cy="500" r="4.5"/><text transform="translate(301 510) scale(1.3 1)">235</text></g>
<g id="n236"><circle cx="270" cy="505" r="4.5"/><text transform="translate(281 515) scale(1.3 1)">236</text></g>
<g id="n237"><circle cx="275" cy="515" r="4.5"/><text transform="translate(286 525) scale(1.3 1)">237</text></g>
<g id="n238"><circle cx="283" cy="453" r="4.5"/><text transform="translate(294 463) scale(1.3 1)">238</text></g>
<g id="n239"><circle cx="268" cy="528" r="4.5"/><text transform="translate(279 538) scale(1.3 1)">239</text></g>
<g id="n240"><circle cx="283" cy="528" r="4.5"/><text transform="translate(294 538) scale(1.3 1)">240</text></g>
<g id="n241"><circle cx="268" cy="540" r="4.5"/><text transform="translate(279 550) scale(1.3 1)">241</text></g>
<g id="n242"><circle cx="128" cy="538" r="4.5"/><text transform="translate(139 548) scale(1.3 1)">242</text></g>
<g id="n243"><circle cx="128" cy="567" r="4.5"/><text transform="translate(139 577) scale(1.3 1)">243</text></g>
<g id="n244"><circle cx="135" cy="567" r="4.5"/><text transform="translate(146 577) scale(1.3 1)">244</text></g>
<g id="n245"><circle cx="150" cy="567" r="4.5"/><text transform="translate(161 577) scale(1.3 1)">245</text></g>
<g id="n246"><circle cx="167" cy="587" r="4.5"/><text transform="translate(178 597) scale(1.3 1)">246</text></g>
<g id="n247"><circle cx="128" cy="587" r="4.5"/><text transform="translate(139 597) scale(1.3 1)">247</text></g>
<g id="n248"><circle cx="128" cy="675" r="4.5"/><text transform="translate(139 685) scale(1.3 1)">248</text></g>
<g id="n249"><circle cx="20" cy="675" r="4.5"/><text transform="translate(31 685) scale(1.3 1)">249</text></g>
</g>
</svg>
